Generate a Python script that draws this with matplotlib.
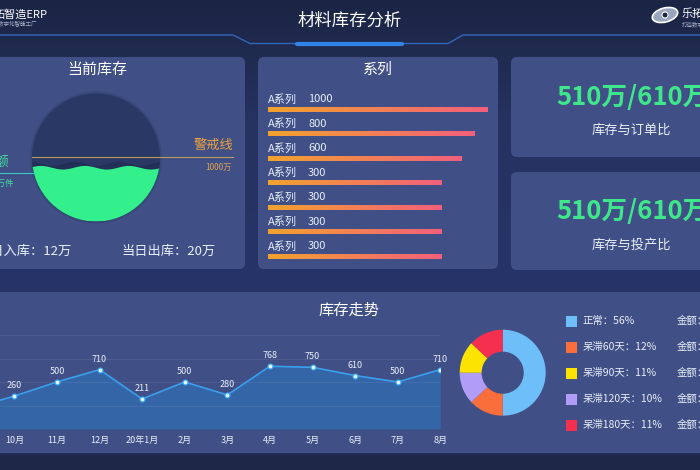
import numpy as np
import matplotlib
matplotlib.use('Agg')
import matplotlib.pyplot as plt
from matplotlib.patches import FancyBboxPatch, Circle, Polygon, Rectangle, Ellipse
from matplotlib.colors import LinearSegmentedColormap, to_rgb
from matplotlib.transforms import blended_transform_factory

plt.rcParams['font.family'] = ['Noto Sans CJK SC', 'DejaVu Sans']

# ---- 数据 ----
series_names = ['A系列'] * 7
series_values = [1000, 800, 600, 300, 300, 300, 300]

months = ['9月', '10月', '11月', '12月', '20年1月', '2月', '3月', '4月', '5月', '6月', '7月', '8月']
stock_trend = [50, 260, 500, 710, 211, 500, 280, 768, 750, 610, 500, 710]

legend_names = ['正常', '呆滞60天', '呆滞90天', '呆滞120天', '呆滞180天']
legend_pct = [56, 12, 11, 10, 11]
legend_colors = ['#6ebefa', '#fa6e3c', '#fde400', '#b19cf7', '#f5304f']

# 饼图实际画出来的顺序和比例（顺时针，从12点开始）
pie_order = ['正常', '呆滞60天', '呆滞120天', '呆滞90天', '呆滞180天']
pie_share = [50, 13, 12, 12, 13]

ratio_stock = [510, 510]
ratio_target = [610, 610]
ratio_labels = ['库存与订单比', '库存与投产比']

liquid_level = 0.42
in_today = '12万'
out_today = '20万'
warn_value = '1000万'

W, H = 700, 470
PANEL = '#405086'
TXT = '#e8eef8'

fig = plt.figure(figsize=(7, 4.7), dpi=100)


def fx(x):
    return x / W


def fy(y):
    return 1 - y / H


# 背景 (像素坐标)
bg = fig.add_axes([0, 0, 1, 1])
bg.set_xlim(0, W)
bg.set_ylim(H, 0)
bg.axis('off')

stops_y = [0, 45, 120, 300, 452, 456, 470]
stops_c = ['#1b2444', '#1f2a4e', '#263260', '#27346a', '#243060', '#1e2747', '#1e2747']
rgb = np.array([to_rgb(c) for c in stops_c])
yy = np.arange(H)
grad = np.stack([np.interp(yy, stops_y, rgb[:, k]) for k in range(3)], axis=1)[:, None, :]
bg.imshow(grad, extent=[0, W, H, 0], aspect='auto', zorder=0)

# 标题栏
bg.plot([0, 233, 250, 448, 463, W], [35, 35, 43.5, 43.5, 35, 35], color='#3466b8', lw=1, zorder=2)
bg.plot([297, 402], [43.5, 43.5], color='#2f86e8', lw=3, solid_capstyle='round', zorder=3)
bg.text(350, 21, '材料库存分析', ha='center', va='center', fontsize=12.5, color='white', zorder=3)
bg.text(48, 14, '拓智造ERP', ha='right', va='center', fontsize=8, color='white', zorder=3)
bg.text(37, 23, '打造数字化智能工厂', ha='right', va='center', fontsize=4, color='#aab4cc', zorder=3)
bg.add_patch(Ellipse((665, 15), 26, 14, angle=-15, fc='#9aa6bf', ec='white', lw=1.2, zorder=3))
bg.add_patch(Circle((665, 15), 3, fc='#1b2444', ec='white', lw=0.8, zorder=4))
bg.text(682, 14, '乐拓', ha='left', va='center', fontsize=8, color='white', zorder=3)
bg.text(682, 24, '打造数字', ha='left', va='center', fontsize=4, color='#aab4cc', zorder=3)

# 面板
for x0, y0, x1, y1 in [(-10, 57, 245, 269), (258, 57, 498, 269), (511, 57, 710, 157),
                       (511, 172, 710, 270), (-10, 292, 710, 453)]:
    bg.add_patch(FancyBboxPatch((x0, y0), x1 - x0, y1 - y0,
                                boxstyle='round,pad=0,rounding_size=6',
                                fc=PANEL, ec='none', zorder=1))

# ---- 当前库存 水球 ----
bg.text(97, 70, '当前库存', ha='center', va='center', fontsize=10.8, color='white', zorder=3)
cx, cy, r = 96, 157.5, 64
bg.add_patch(Circle((cx, cy), r + 2, fc='#34446f', ec='none', alpha=0.6, zorder=2))
ball = Circle((cx, cy), r, fc='#2a3865', ec='none', zorder=3)
bg.add_patch(ball)
top = cy + r - 2 * r * liquid_level
xs = np.linspace(cx - r, cx + r, 200)
back = Polygon(np.vstack([np.column_stack([xs, top - 4 + 2 * np.sin((xs - cx) / 7.0 + 1.5)]),
                          [[cx + r, cy + r], [cx - r, cy + r]]]), fc='#223058', ec='none', zorder=4)
bg.add_patch(back)
back.set_clip_path(ball)
wave = Polygon(np.vstack([np.column_stack([xs, top + 1.8 * np.sin((xs - cx) / 7.0)]),
                          [[cx + r, cy + r], [cx - r, cy + r]]]), fc='#34f08c', ec='none', zorder=5)
bg.add_patch(wave)
wave.set_clip_path(ball)

bg.plot([32, 233], [156.7, 156.7], color='#b89a5a', lw=0.8, zorder=6)
bg.plot([0, 35], [172.7, 172.7], color='#3cc6c8', lw=0.8, zorder=6)
bg.text(233, 145, '警戒线', ha='right', va='center', fontsize=9.5, color='#eaa23c', zorder=6)
bg.text(232, 167, warn_value, ha='right', va='center', fontsize=6, color='#e0a050', zorder=6)
bg.text(9, 162, '库存额', ha='right', va='center', fontsize=9.5, color='#42e0a0', zorder=6)
bg.text(14, 183, '510万件', ha='right', va='center', fontsize=6, color='#42e0a0', zorder=6)
bg.text(72, 251.5, '当日入库：' + in_today, ha='right', va='center', fontsize=9.5, color=TXT, zorder=6)
bg.text(121, 251.5, '当日出库：' + out_today, ha='left', va='center', fontsize=9.5, color=TXT, zorder=6)

# ---- 系列 条形 ----
bg.text(378, 70, '系列', ha='center', va='center', fontsize=10.8, color='white', zorder=3)
XMIN = -2290
axb = fig.add_axes([fx(268), fy(265), 220 / W, (265 - 90) / H])
axb.set_facecolor('none')
axb.axis('off')
rows = np.arange(len(series_values))
bh = 0.216
bars = axb.barh(rows, np.array(series_values) - XMIN, left=XMIN, height=bh, color='none')
cmap = LinearSegmentedColormap.from_list('bar', ['#f2a22e', '#f2607c'])
gline = np.linspace(0, 1, 256).reshape(1, -1)
for b, v, i in zip(bars, series_values, rows):
    im = axb.imshow(gline, extent=[XMIN, v, i + bh / 2, i - bh / 2], aspect='auto', cmap=cmap)
    im.set_clip_path(b)
trans = blended_transform_factory(axb.transAxes, axb.transData)
for name, v, i in zip(series_names, series_values, rows):
    axb.text(0, i - 0.41, name, transform=trans, ha='left', va='center', fontsize=8, color=TXT)
    axb.text(0.182, i - 0.41, str(v), transform=trans, ha='left', va='center', fontsize=8, color=TXT)
axb.set_xlim(XMIN, 1000)
axb.set_ylim(6.355, -0.788)

# ---- 比例卡片 ----
for k, yc in enumerate([97, 212]):
    bg.text(556, yc, f'{ratio_stock[k]}万/{ratio_target[k]}万', ha='left', va='center',
            fontsize=18.5, fontweight='bold', color='#3ee88a', zorder=3)
    bg.text(631, yc + 33, ratio_labels[k], ha='center', va='center', fontsize=9.5, color=TXT, zorder=3)

# ---- 库存走势 ----
bg.text(349, 310, '库存走势', ha='center', va='center', fontsize=11, color='white', zorder=3)
axl = fig.add_axes([0, fy(429), 440.3 / W, 94 / H])
axl.set_facecolor('none')
x = np.arange(len(months))
axl.fill_between(x, stock_trend, -300, color='#3467a8', alpha=0.95, lw=0)
axl.plot(x, stock_trend, color='#3aa0ee', lw=1.2, marker='o', ms=3.5,
         mfc='#e8f6ff', mec='#3ab0ff', mew=0.8, zorder=4)
for i, v in zip(x, stock_trend):
    axl.annotate(str(v), (i, v), xytext=(0, 7.5), textcoords='offset points',
                 ha='center', va='center', fontsize=6.5, color=TXT)
axl.set_yticks([-300, 100, 500, 900, 1300])
axl.grid(axis='y', color='white', alpha=0.07, lw=0.8)
axl.set_xticks(x)
axl.set_xticklabels(months)
# set_xticks 会把范围撑开，所以范围放在后面
axl.set_xlim(0.664, len(months) - 1)
axl.set_ylim(-300, 1300)
axl.tick_params(axis='x', length=0, pad=5, labelsize=6.5, labelcolor=TXT)
axl.tick_params(axis='y', left=False, labelleft=False)
for s in axl.spines.values():
    s.set_visible(False)

# ---- 饼图 ----
color_of = dict(zip(legend_names, legend_colors))
axp = fig.add_axes([fx(502.7 - 43), fy(372.7 + 43), 86 / W, 86 / H])
axp.pie(pie_share, colors=[color_of[n] for n in pie_order], startangle=90, counterclock=False,
        wedgeprops=dict(width=0.51, edgecolor='none'))
axp.set_xlim(-1, 1)
axp.set_ylim(-1, 1)

for k, (n, p, c) in enumerate(zip(legend_names, legend_pct, legend_colors)):
    yc = 321 + 26 * k
    bg.add_patch(Rectangle((565.7, yc - 5.5), 11, 11, fc=c, ec='none', zorder=3))
    bg.text(582.3, yc, f'{n}：{p}%', ha='left', va='center', fontsize=7.5, color=TXT, zorder=3)
    bg.text(677, yc, '金额：100万', ha='left', va='center', fontsize=7.5, color=TXT, zorder=3)

fig.savefig('out.png', dpi=100)
